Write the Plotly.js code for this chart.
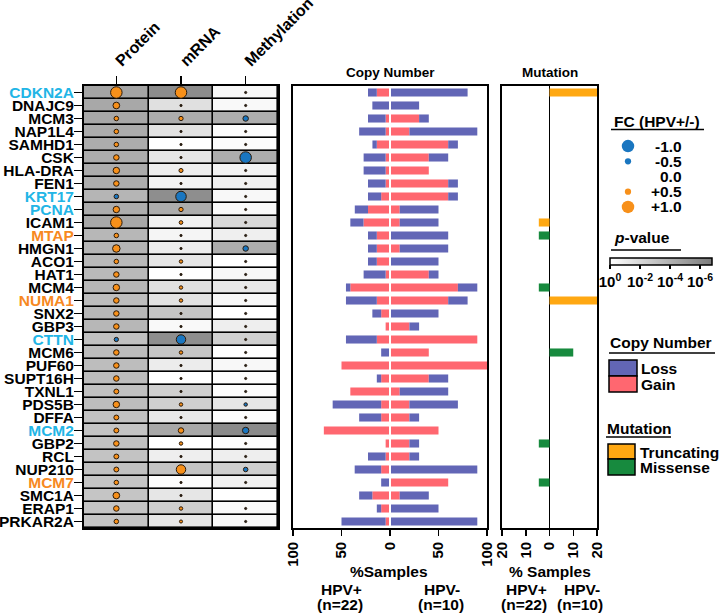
<!DOCTYPE html>
<html><head><meta charset="utf-8">
<script src="https://cdn.plot.ly/plotly-3.0.1.min.js"></script>
<style>body{margin:0;background:#fff}#chart{width:720px;height:615px}</style>
</head><body><div id="chart"></div>
<script>
// ---------------- DATA ----------------
const genes = ["CDKN2A","DNAJC9","MCM3","NAP1L4","SAMHD1","CSK","HLA-DRA","FEN1","KRT17","PCNA","ICAM1","MTAP","HMGN1","ACO1","HAT1","MCM4","NUMA1","SNX2","GBP3","CTTN","MCM6","PUF60","SUPT16H","TXNL1","PDS5B","DFFA","MCM2","GBP2","RCL","NUP210","MCM7","SMC1A","ERAP1","PRKAR2A"];
const cyanGenes = ["CDKN2A","KRT17","PCNA","CTTN","MCM2"];
const orangeGenes = ["MTAP","NUMA1","MCM7"];
const omicsColumns = ["Protein","mRNA","Methylation"];

// fold change HPV+/- (dot size & colour)
const fcProtein = [1.0,0.6,0.42,0.42,0.42,0.5,0.58,0.5,-0.42,0.58,1.0,0.42,0.67,0.42,0.5,0.58,0.5,0.5,0.5,-0.4,0.5,0.5,0.5,0.45,0.58,0.45,0.45,0.5,0.45,0.45,0.42,0.6,0.5,0.42];
const fcMRNA    = [1.0,0.1,0.4,0.1,0.1,0.1,0.38,0.1,-0.92,0.4,0.35,0.1,0.1,0.33,0.1,0.33,0.33,0.1,0.1,-0.83,0.33,0.1,0.1,0.1,0.33,0.1,0.5,0.33,0.1,0.83,0.1,0.1,0.33,0.3];
const fcMeth    = [0.1,0.1,-0.5,0.1,0.1,-1.0,0.1,0.1,0.1,0.1,0.1,0.1,-0.5,0.1,0.1,0.1,0.1,0.1,0.1,0.1,0.1,0.1,0.1,0.1,-0.33,0.1,-0.58,0.1,0.1,-0.42,0.1,0,0.1,0.1];

// -log10(p-value) (cell shade)
const logPProtein = [4.7,4.5,4.5,4.3,4.3,4.3,4.3,4.2,3.8,4.2,4.5,3.7,3.8,3.6,3.6,3.7,3.4,3.7,3.7,3.2,3.4,3.4,3.4,3.2,3.4,3.2,3.1,3.2,3.1,3.2,3.0,3.0,3.0,3.0];
const logPMRNA    = [5.9,1.6,4.2,1.5,0,1.3,0.9,0.6,5.8,4.3,0.7,0.5,1.0,1.3,0,1.6,1.5,3.0,0.3,5.8,3.0,1.0,0,2.4,2.4,1.2,4.5,0,0.9,3.1,0.15,1.3,2.5,1.3];
const logPMeth    = [0.4,0.3,4.2,0.15,0.15,4.2,0.6,0.7,0.35,0.3,2.0,0.8,4.2,0,0.4,1.2,0.4,0,0.9,2.4,0,0.35,0.15,0.15,1.3,0.15,6.0,0.15,0.9,2.5,0.7,0,0.3,0.3];

// Copy number, % samples
const cnGainHPVpos = [13.6,0,4.5,4.5,13.6,4.5,4.5,4.5,9.1,22.7,27.3,13.6,13.6,13.6,4.5,40.9,13.6,9.1,4.5,13.6,0,50,9.1,40.9,9.1,9.1,68.2,4.5,4.5,9.1,0,18.2,9.1,4.5];
const cnLossHPVpos = [9.1,18.2,18.2,27.3,4.5,22.7,22.7,18.2,13.6,13.6,13.6,9.1,9.1,9.1,22.7,4.5,31.8,9.1,0,31.8,9.1,0,4.5,0,50,22.7,0,0,18.2,27.3,9.1,13.6,4.5,45.5];
const cnGainHPVneg = [0,0,30,20,60,40,40,60,60,10,10,0,10,0,40,70,60,0,20,90,40,100,40,10,20,20,50,20,20,0,60,10,0,0];
const cnLossHPVneg = [80,30,10,70,10,20,0,10,10,40,40,60,50,50,10,20,20,50,10,0,0,0,20,50,50,10,0,10,10,90,0,30,50,90];

// Mutation, % samples
const mutTruncHPVpos = [0,0,0,0,0,0,0,0,0,0,4.5,0,0,0,0,0,0,0,0,0,0,0,0,0,0,0,0,0,0,0,0,0,0,0];
const mutMissHPVpos  = [0,0,0,0,0,0,0,0,0,0,0,4.5,0,0,0,4.5,0,0,0,0,0,0,0,0,0,0,0,4.5,0,0,4.5,0,0,0];
const mutTruncHPVneg = [20,0,0,0,0,0,0,0,0,0,0,0,0,0,0,0,20,0,0,0,0,0,0,0,0,0,0,0,0,0,0,0,0,0];
const mutMissHPVneg  = [0,0,0,0,0,0,0,0,0,0,0,0,0,0,0,0,0,0,0,0,10,0,0,0,0,0,0,0,0,0,0,0,0,0];

const cnTickVals = [-100,-50,0,50,100];
const cnTickText = ["100","50","0","50","100"];
const mutTickVals = [-20,-10,0,10,20];
const mutTickText = ["20","10","0","10","20"];
const legendFC = [-1.0,-0.5,0.0,0.5,1.0];
const legendFCText = ["-1.0","-0.5","0.0","+0.5","+1.0"];
const pTickVals = [0,2,4,6];
const pTickText = ["10<sup>0</sup>","10<sup>-2</sup>","10<sup>-4</sup>","10<sup>-6</sup>"];

// ---------------- STYLE ----------------
const W = 720, H = 615;
const px = v => v / W, py = v => 1 - v / H;
const FAM = '"Liberation Sans", Arial, sans-serif';
const F = (s, c) => ({family: FAM, size: s, color: c || '#000', weight: 'bold'});
const ORANGE = '#F7901A', BLUE = '#1A76C0', CYAN = '#22B5E6', LABEL_ORANGE = '#F7891F';
const LOSS = '#6266B6', GAIN = '#FF6770', TRUNC = '#FFA812', MISS = '#178A3E';

const rows = genes.map((g, i) => i);
const yDom = [py(528), py(86)];
const yRange = [genes.length - 0.5, -0.5];

// heatmap
const z = rows.map(i => [logPProtein[i], logPMRNA[i], logPMeth[i]]);
const heat = {
  type: 'heatmap', x: [0,1,2], y: rows, z: z, xaxis: 'x', yaxis: 'y',
  zmin: 0, zmax: 6.8, colorscale: [[0,'#FFFFFF'],[1,'#7B7B7B']],
  xgap: 1.6, ygap: 1.6, hoverinfo: 'skip',
  colorbar: {orientation: 'h', x: px(610), xanchor: 'left', y: py(258), yanchor: 'top',
    len: 102, lenmode: 'pixels', thickness: 7, thicknessmode: 'pixels',
    outlinewidth: 1.5, outlinecolor: '#000', tickvals: pTickVals, ticktext: pTickText,
    ticks: 'outside', ticklen: 4, tickwidth: 1.2, tickcolor: '#000',
    tickfont: F(15), xpad: 0, ypad: 0, borderwidth: 0}
};

// dots
const fcCols = [fcProtein, fcMRNA, fcMeth];
const dx = [], dy = [], ds = [], dc = [];
fcCols.forEach((arr, c) => arr.forEach((v, i) => {
  if (v === 0) return;
  const a = Math.abs(v);
  dx.push(c); dy.push(i);
  ds.push(a < 0.2 ? 2.2 : 12 * a - 0.5);
  dc.push(a < 0.2 ? '#222' : (v > 0 ? ORANGE : BLUE));
}));
const dots = {type: 'scatter', mode: 'markers', x: dx, y: dy, xaxis: 'x', yaxis: 'y',
  marker: {size: ds, color: dc, opacity: 1, line: {color: '#2a1a0a', width: 1}}, cliponaxis: false, hoverinfo: 'skip'};

const neg = a => a.map(v => -v);
const bar = (x, color, xa, ya) => ({type: 'bar', orientation: 'h', x: x, y: rows, xaxis: xa, yaxis: ya,
  marker: {color: color, line: {width: 0}}, hoverinfo: 'skip'});

const traces = [
  heat, dots,
  bar(neg(cnGainHPVpos), GAIN, 'x2', 'y2'),
  bar(cnGainHPVneg, GAIN, 'x2', 'y2'),
  bar(neg(cnLossHPVpos), LOSS, 'x2', 'y2'),
  bar(cnLossHPVneg, LOSS, 'x2', 'y2'),
  bar(neg(mutTruncHPVpos), TRUNC, 'x3', 'y3'),
  bar(neg(mutMissHPVpos), MISS, 'x3', 'y3'),
  bar(mutTruncHPVneg, TRUNC, 'x3', 'y3'),
  bar(mutMissHPVneg, MISS, 'x3', 'y3'),
  {type: 'scatter', mode: 'markers', x: legendFC.map(() => 0), y: legendFC.map((v, i) => i),
   xaxis: 'x4', yaxis: 'y4', hoverinfo: 'skip', cliponaxis: false,
   marker: {size: legendFC.map(v => 12.5 * Math.abs(v)), opacity: 1, color: legendFC.map(v => v > 0 ? ORANGE : BLUE), line: {width: 0}}}
];

const geneTick = genes.map(g => cyanGenes.includes(g) ? `<span style="color:${CYAN}">${g}</span>`
  : orangeGenes.includes(g) ? `<span style="color:${LABEL_ORANGE}">${g}</span>` : g);

const boxAxis = {showline: true, mirror: true, linecolor: '#000', linewidth: 1.8, showgrid: false, zeroline: false};

const layout = {
  width: W, height: H, margin: {l: 0, r: 0, t: 0, b: 0},
  paper_bgcolor: '#fff', plot_bgcolor: '#fff', showlegend: false,
  font: {family: FAM, color: '#000'},
  barmode: 'relative', bargap: 0.38,
  xaxis: Object.assign({}, boxAxis, {domain: [px(84), px(278)], range: [-0.5, 2.5], anchor: 'y', side: 'top',
    tickvals: [0,1,2], ticktext: omicsColumns, tickangle: -45, ticks: 'outside', ticklen: 8, tickwidth: 1.5,
    tickcolor: '#000', tickfont: F(16), linewidth: 2}),
  yaxis: Object.assign({}, boxAxis, {domain: yDom, range: yRange, anchor: 'x',
    tickvals: rows, ticktext: geneTick, ticks: 'outside', ticklen: 8, tickwidth: 1.5, tickcolor: '#000',
    tickfont: F(15.5), linewidth: 2, ticklabelstandoff: -3}),
  xaxis2: Object.assign({}, boxAxis, {domain: [px(293), px(487)], range: [-100, 100], anchor: 'y2',
    tickvals: cnTickVals, ticktext: cnTickText, tickangle: -90, ticks: 'outside', ticklen: 6, tickwidth: 1.5,
    tickcolor: '#000', tickfont: F(15)}),
  yaxis2: Object.assign({}, boxAxis, {domain: yDom, range: yRange, anchor: 'x2', showticklabels: false, ticks: ''}),
  xaxis3: Object.assign({}, boxAxis, {domain: [px(502), px(597)], range: [-20, 20], anchor: 'y3',
    tickvals: mutTickVals, ticktext: mutTickText, tickangle: -90, ticks: 'outside', ticklen: 6, tickwidth: 1.5,
    tickcolor: '#000', tickfont: F(15), zeroline: true, zerolinecolor: '#000', zerolinewidth: 1.5}),
  yaxis3: Object.assign({}, boxAxis, {domain: yDom, range: yRange, anchor: 'x3', showticklabels: false, ticks: ''}),
  xaxis4: {domain: [px(610), px(700)], range: [-0.3214, 1.2857], visible: false, anchor: 'y4'},
  yaxis4: {domain: [py(214.5), py(138.5)], range: [4.5, -0.5], visible: false, anchor: 'x4'},
  shapes: [
    {type: 'rect', xref: 'x domain', yref: 'y domain', x0: 0, x1: 1, y0: 0, y1: 1, fillcolor: '#000', line: {width: 0}, layer: 'below'},
    {type: 'line', xref: 'x2', yref: 'y2 domain', x0: 0, x1: 0, y0: 0.004, y1: 0.996, line: {color: '#fff', width: 2}, layer: 'above'},
    {type: 'line', xref: 'paper', yref: 'paper', x0: px(611), x1: px(704), y0: py(129.5), y1: py(129.5), line: {color: '#000', width: 1.5}},
    {type: 'line', xref: 'paper', yref: 'paper', x0: px(611), x1: px(681), y0: py(250), y1: py(250), line: {color: '#000', width: 1.5}},
    {type: 'line', xref: 'paper', yref: 'paper', x0: px(609), x1: px(715), y0: py(353), y1: py(353), line: {color: '#000', width: 1.5}},
    {type: 'line', xref: 'paper', yref: 'paper', x0: px(606), x1: px(671), y0: py(437), y1: py(437), line: {color: '#000', width: 1.5}},
    {type: 'rect', xref: 'paper', yref: 'paper', x0: px(609), x1: px(637), y0: py(376), y1: py(360), fillcolor: LOSS, line: {color: '#000', width: 1.5}},
    {type: 'rect', xref: 'paper', yref: 'paper', x0: px(609), x1: px(637), y0: py(392), y1: py(376), fillcolor: GAIN, line: {color: '#000', width: 1.5}},
    {type: 'rect', xref: 'paper', yref: 'paper', x0: px(608), x1: px(635), y0: py(459), y1: py(444), fillcolor: TRUNC, line: {color: '#000', width: 1.5}},
    {type: 'rect', xref: 'paper', yref: 'paper', x0: px(608), x1: px(635), y0: py(475), y1: py(459), fillcolor: MISS, line: {color: '#000', width: 1.5}}
  ],
  annotations: []
};

const ann = (text, x, y, xanchor, size) => layout.annotations.push({text: text, x: px(x), y: py(y), xref: 'paper', yref: 'paper',
  xanchor: xanchor || 'center', yanchor: 'middle', showarrow: false, font: F(size || 15.5)});
ann('Copy Number', 390, 72, 'center', 13.5);
ann('Mutation', 550, 72, 'center', 13.5);
ann('%Samples', 389, 571);
ann('HPV+', 341, 589.5); ann('(n=22)', 340, 604);
ann('HPV-', 442, 589.5); ann('(n=10)', 441, 604);
ann('% Samples', 550, 571);
ann('HPV+', 526, 589.5); ann('(n=22)', 524, 604);
ann('HPV-', 582, 589.5); ann('(n=10)', 580, 604);
ann('FC (HPV+/-)', 612, 121, 'left');
ann('<i>p</i>-value', 612, 237, 'left');
ann('Copy Number', 608, 342, 'left');
ann('Loss', 639, 368, 'left'); ann('Gain', 639, 384, 'left');
ann('Mutation', 605, 429, 'left');
ann('Truncating', 638, 452, 'left'); ann('Missense', 638, 467, 'left');
legendFCText.forEach((t, i) => layout.annotations.push({text: t, x: 1, y: i, xref: 'x4', yref: 'y4',
  xanchor: 'right', yanchor: 'middle', showarrow: false, font: F(15.5)}));

Plotly.newPlot('chart', traces, layout, {staticPlot: true, displayModeBar: false});
</script></body></html>
